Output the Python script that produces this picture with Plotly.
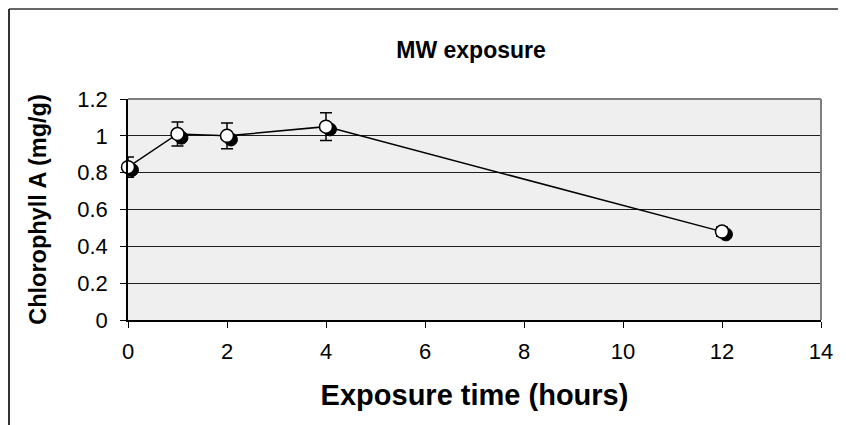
import plotly.graph_objects as go

# exposure time (hours) and chlorophyll A (mg/g)
hours = [0, 1, 2, 4, 12]
chl_white = [0.83, 1.01, 1.00, 1.05, 0.48]
chl_err = [0.055, 0.065, 0.07, 0.075, 0.025]

hours_black = [0.08, 1.08, 2.08, 4.08, 12.08]
chl_black = [0.815, 0.99, 0.98, 1.035, 0.465]

x_ticks = [0, 2, 4, 6, 8, 10, 12, 14]
y_ticks = [0, 0.2, 0.4, 0.6, 0.8, 1, 1.2]

# page body has an 8px margin, so the figure is a bit smaller than the window
W, H = 838, 417
L, R, T, B = 120, 25, 91, 105
pw, ph = W - L - R, H - T - B


def px_x(p):
    return (p - L) / pw


def px_y(p):
    return (H - B - p) / ph


FONT = "Liberation Sans, Arial, sans-serif"

fig = go.Figure()

# line through the open markers
fig.add_trace(go.Scatter(
    x=hours, y=chl_white, mode="lines",
    line=dict(color="black", width=1.5),
    showlegend=False, hoverinfo="skip",
))

fig.add_trace(go.Scatter(
    x=hours_black, y=chl_black, mode="markers",
    marker=dict(size=13, color="black", line=dict(color="black", width=1)),
    showlegend=False, cliponaxis=False,
))

fig.add_trace(go.Scatter(
    x=hours, y=chl_white, mode="markers",
    marker=dict(size=13, color="white", line=dict(color="black", width=1.5)),
    error_y=dict(type="data", array=chl_err, color="black", thickness=1.5, width=6),
    showlegend=False, cliponaxis=False,
))

fig.update_xaxes(
    range=[0, 14], tickvals=x_ticks, ticks="outside", ticklen=6, tickcolor="black",
    tickwidth=1, showline=True, linecolor="black", linewidth=1.5,
    showgrid=False, zeroline=False, ticklabelstandoff=5,
    tickfont=dict(family=FONT, size=22, color="black"),
    title=dict(text="<b>Exposure time (hours)</b>", standoff=22,
               font=dict(family=FONT, size=29, color="black")),
)
fig.update_yaxes(
    range=[0, 1.2], tickvals=y_ticks, ticks="outside", ticklen=6, tickcolor="black",
    tickwidth=1, showline=True, linecolor="black", linewidth=1.5,
    showgrid=True, gridcolor="#1e1e1e", gridwidth=1, zeroline=False,
    ticklabelstandoff=8,
    tickfont=dict(family=FONT, size=22, color="black"),
    title=dict(text="<b>Chlorophyll A (mg/g)</b>", standoff=24,
               font=dict(family=FONT, size=23.5, color="black")),
)

shapes = [
    # plot area border (top and right, grey)
    dict(type="line", xref="paper", yref="paper", x0=0, x1=1, y0=1, y1=1,
         line=dict(color="#808080", width=2), layer="above"),
    dict(type="line", xref="paper", yref="paper", x0=1, x1=1, y0=0, y1=1,
         line=dict(color="#808080", width=2), layer="above"),
    # chart border
    dict(type="line", xref="paper", yref="paper", x0=px_x(1), x1=px_x(W + 5),
         y0=px_y(1), y1=px_y(1), line=dict(color="#333333", width=1.5)),
    dict(type="line", xref="paper", yref="paper", x0=px_x(1), x1=px_x(1),
         y0=px_y(1), y1=px_y(H + 5), line=dict(color="#333333", width=2)),
]

fig.update_layout(
    width=W, height=H,
    margin=dict(l=L, r=R, t=T, b=B),
    paper_bgcolor="white", plot_bgcolor="#efefef",
    font=dict(family=FONT, color="black"),
    title=dict(text="<b>MW exposure</b>", x=0.495, xanchor="center",
               xref="paper", yref="container", y=1 - 42 / H, yanchor="middle",
               font=dict(family=FONT, size=23, color="black")),
    shapes=shapes,
)

fig.write_html("out.html")
